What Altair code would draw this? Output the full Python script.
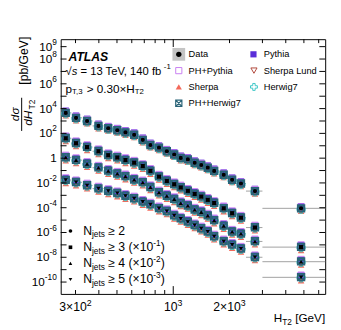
import altair as alt
import pandas as pd

FONT = "Liberation Sans"
W, H = 271, 261
OX, OY = 62, 36  # plot-area origin in page pixels

# ---------------- data ----------------
ht2_center = [266, 302, 346, 398, 449, 502, 555, 618, 687, 755, 839, 924, 1012, 1097,
              1197, 1302, 1412, 1530, 1656, 1862, 2066, 2303, 2736, 4830]
ht2_edges = [250, 285, 325, 370, 425, 475, 530, 585, 650, 720, 795, 880, 965, 1055, 1145,
             1250, 1355, 1470, 1590, 1755, 1960, 2180, 2450, 3000, 7000]

xs_ge2 = [4.5e3, 1.8e3, 1.0e3, 4.0e2, 2.6e2, 1.8e2, 1.2e2, 78, 30, 11.6, 7.0, 3.6, 1.96, 1.05,
          0.79, 0.43, 0.28, 0.17, 0.094, 0.046, 0.018, 0.0089, 0.0022, 8.9e-5]
xs_ge3 = [400, 160, 78, 36, 17.3, 11.3, 7.0, 4.3, 2.3, 0.94, 0.32, 0.145, 0.078, 0.043,
          0.023, 0.013, 7.9e-3, 4.3e-3, 2.4e-3, 8.9e-4, 3.6e-4, 1.55e-4, 2.5e-5, 6.6e-7]
xs_ge4 = [113, 69, 34, 17, 9.3, 5.5, 3.4, 1.8, 1.1, 0.45, 0.17, 0.089, 0.049, 0.023,
          0.0145, 0.0069, 0.0044, 0.0023, 9.5e-4, 3.4e-4, 1.15e-4, 7.8e-5, 1.9e-5, 4.4e-7]
xs_ge5 = [17, 11.2, 6.2, 3.5, 2.2, 1.45, 0.89, 0.55, 0.295, 0.178, 0.089, 0.052, 0.023, 0.013,
          0.0071, 0.0038, 0.0021, 0.00115, 4.7e-4, 1.9e-4, 1.0e-4, 4.9e-5, 1.0e-5, 2.4e-7]
scale_factors = [1, 1e-1, 1e-2, 1e-3]
series_names = ["ge2", "ge3", "ge4", "ge5"]

ratio_pythia = [1.5, 1.4, 1.4, 1.4]
ratio_ph_pythia = [1.3, 1.5, 1.5, 1.5]
ratio_sherpa = [0.6, 0.55, 0.55, 0.55]
ratio_sherpa_lund = [0.8, 0.8, 0.8, 0.8]
ratio_ph_herwig7 = [1.0, 1.05, 1.05, 1.05]
ratio_herwig7 = [0.85, 0.9, 0.9, 0.9]

y_ticks_labelled = [1e9, 1e8, 1e6, 1e4, 1e2, 1, 1e-2, 1e-4, 1e-6, 1e-8, 1e-10]
y_tick_exps = ["9", "8", "6", "4", "2", "", "-2", "-4", "-6", "-8", "-10"]
x_labels = [(300, "3×10", "2"), (1000, "10", "3"), (2000, "2×10", "3")]
x_minor = [300, 400, 500, 600, 700, 800, 900, 2000, 3000, 4000, 5000, 6000]
x_major = [1000]

# ---------------- helpers ----------------
AW = {' ': 278, '!': 278, '(': 333, ')': 333, '+': 584, ',': 278, '-': 333, '.': 278,
      '/': 278, '=': 584, '>': 584, '[': 278, ']': 278, '×': 584, '≥': 549, 'σ': 600, '√': 549}
for c in "0123456789":
    AW[c] = 556
AW.update(dict(zip("ABCDEFGHIJKLMNOPQRSTUVWXYZ",
                   [667, 667, 722, 722, 667, 611, 778, 722, 278, 500, 667, 556, 833, 722, 778,
                    667, 778, 722, 667, 611, 722, 667, 944, 667, 667, 611])))
AW.update(dict(zip("abcdefghijklmnopqrstuvwxyz",
                   [556, 556, 500, 556, 556, 278, 556, 556, 222, 222, 500, 222, 833, 556, 556,
                    556, 556, 333, 500, 278, 556, 500, 722, 500, 500, 500])))


def tw(s, size):
    return sum(AW.get(c, 556) for c in s) / 1000.0 * size


xscale = alt.Scale(type="log", domain=[250, 6500], nice=False)
yscale = alt.Scale(type="log", domain=[1.1e-11, 4e9], nice=False)

rows = []
vals = [xs_ge2, xs_ge3, xs_ge4, xs_ge5]
for k in range(4):
    for i in range(len(ht2_center)):
        rows.append(dict(series=series_names[k], k=k, x=ht2_center[i], lo=ht2_edges[i],
                         hi=ht2_edges[i + 1], y=vals[k][i] * scale_factors[k]))
data = pd.DataFrame(rows)


def mc_df(ratio):
    d = data.copy()
    d["y"] = [r.y * ratio[r.k] for r in d.itertuples()]
    return d


X = alt.X("x:Q", scale=xscale, axis=None)
Y = alt.Y("y:Q", scale=yscale, axis=None)

layers = []
# x error bars (bin widths)
layers.append(alt.Chart(data).mark_rule(color="#a0a0a0", strokeWidth=1, clip=True).encode(
    x=alt.X("lo:Q", scale=xscale, axis=None), x2="hi:Q", y=Y))

SQX = "M-1,-1H1V1H-1Z M-1,-1L1,1 M1,-1L-1,1"
OCROSS = "M-0.35,-1H0.35V-0.35H1V0.35H0.35V1H-0.35V0.35H-1V-0.35H-0.35Z"

mc_styles = [
    (ratio_sherpa, dict(shape="triangle-up", filled=True, color="#F4695A", size=45)),
    (ratio_sherpa_lund, dict(shape="triangle-down", filled=False, color="#B0463A", size=42, strokeWidth=1)),
    (ratio_pythia, dict(shape="square", filled=True, color="#5A2ED8", size=42)),
    (ratio_ph_pythia, dict(shape="square", filled=False, color="#C97EF2", size=42, strokeWidth=1)),
    (ratio_herwig7, dict(shape=OCROSS, filled=False, color="#3CC6C6", size=70, strokeWidth=1)),
    (ratio_ph_herwig7, dict(shape=SQX, filled=False, color="#2A6478", size=46, strokeWidth=1.8)),
]
for ratio, st in mc_styles:
    layers.append(alt.Chart(mc_df(ratio)).mark_point(opacity=1, **st).encode(x=X, y=Y))

layers.append(alt.Chart(data).mark_point(filled=True, color="black", opacity=1, size=18).encode(
    x=X, y=Y,
    shape=alt.Shape("series:N", scale=alt.Scale(domain=series_names,
                                                range=["circle", "square", "triangle-up", "triangle-down"]),
                    legend=None)))

# ---------------- ticks ----------------
ydec = pd.DataFrame({"v": [10.0 ** e for e in range(-10, 10)]})
layers.append(alt.Chart(ydec).mark_rule(color="black").encode(
    y=alt.Y("v:Q", scale=yscale, axis=None), x=alt.value(0), x2=alt.value(6)))
layers.append(alt.Chart(ydec).mark_rule(color="black").encode(
    y=alt.Y("v:Q", scale=yscale, axis=None), x=alt.value(W - 6), x2=alt.value(W)))
for vlist, ln in ((x_minor, 4), (x_major, 8)):
    d = pd.DataFrame({"v": vlist})
    layers.append(alt.Chart(d).mark_rule(color="black").encode(
        x=alt.X("v:Q", scale=xscale, axis=None), y=alt.value(H), y2=alt.value(H - ln)))
    layers.append(alt.Chart(d).mark_rule(color="black").encode(
        x=alt.X("v:Q", scale=xscale, axis=None), y=alt.value(0), y2=alt.value(ln)))

# ---------------- tick labels ----------------
ylab = pd.DataFrame({"v": y_ticks_labelled, "e": y_tick_exps})
ylab["base"] = ["10" if e != "" else "1" for e in y_tick_exps]
ylab["bx"] = [-4 - tw(e, 8.5) for e in y_tick_exps]
layers.append(alt.Chart(ylab).mark_text(align="right", baseline="middle", font=FONT, fontSize=12).encode(
    y=alt.Y("v:Q", scale=yscale, axis=None), x=alt.X("bx:Q", scale=None, axis=None), text="base:N"))
layers.append(alt.Chart(ylab).mark_text(align="right", baseline="middle", font=FONT, fontSize=8.5, dy=-5).encode(
    y=alt.Y("v:Q", scale=yscale, axis=None), x=alt.value(-4), text="e:N"))

for v, b, e in x_labels:
    tot = tw(b, 12.5) + tw(e, 9)
    d = pd.DataFrame({"v": [v], "b": [b], "e": [e]})
    layers.append(alt.Chart(d).mark_text(align="left", baseline="middle", font=FONT, fontSize=12.5,
                                         dx=-tot / 2).encode(
        x=alt.X("v:Q", scale=xscale, axis=None), y=alt.value(H + 14), text="b:N"))
    layers.append(alt.Chart(d).mark_text(align="left", baseline="middle", font=FONT, fontSize=9,
                                         dx=-tot / 2 + tw(b, 12.5)).encode(
        x=alt.X("v:Q", scale=xscale, axis=None), y=alt.value(H + 9), text="e:N"))

# ---------------- free text ----------------
pieces = []  # (text, x_page, y_page_center, size, style, weight)


def run(parts, x, y, style="normal", weight="normal", align="left"):
    """parts: list of (text, size, dy, style); leading spaces become x offsets"""
    total = sum(tw(t, s) for t, s, dy, st in parts)
    if align == "right":
        x = x - total
    for t, s, dy, st in parts:
        stripped = t.lstrip(" ")
        lead = tw(t[:len(t) - len(stripped)], s)
        pieces.append((stripped, x + lead, y + dy, s, st or style, weight))
        x += tw(t, s)


run([("ATLAS", 12.5, 0, "italic")], 70, 54.5, weight="bold")
run([("√", 11.5, 0, None), ("s", 11.5, 0, "italic"), (" = 13 TeV, 140 fb", 11.5, 0, None),
     ("-1", 8, -4.5, None)], 67, 69.5)
run([("p", 12, 0, None), ("T,3", 8, 3.5, None), (" > 0.30×H", 12, 0, None), ("T2", 8, 3.5, None)], 67, 87)

# legend text
for txt, x, y in [("Data", 193, 51.5), ("PH+Pythia", 193, 68.2), ("Sherpa", 193, 84.9),
                  ("PH+Herwig7", 193, 101.6), ("Pythia", 270, 51.5), ("Sherpa Lund", 270, 68.2),
                  ("Herwig7", 270, 84.9)]:
    run([(txt, 9.5, 0, None)], x, y)

# Njets legend
nj_rows = [232.5, 249.2, 265.7, 282.2]
nj_text = [[(" ≥ 2", 12.5, 0, None)],
           [(" ≥ 3 (×10", 12.5, 0, None), ("-1", 8.5, -4.5, None), (")", 12.5, 0, None)],
           [(" ≥ 4 (×10", 12.5, 0, None), ("-2", 8.5, -4.5, None), (")", 12.5, 0, None)],
           [(" ≥ 5 (×10", 12.5, 0, None), ("-3", 8.5, -4.5, None), (")", 12.5, 0, None)]]
for y, tail in zip(nj_rows, nj_text):
    run([("N", 12.5, 0, None), ("jets", 8.5, 3.5, None)] + tail, 85, y)

# x title
run([("H", 12, 0, None), ("T2", 8.5, 3.5, None), (" [GeV]", 12, 0, None)], 333, 322, align="right")

pdf = pd.DataFrame(pieces, columns=["t", "x", "y", "s", "style", "weight"])
pdf["x"] = pdf["x"] - OX
pdf["y"] = pdf["y"] - OY
for (st, wt, sz), g in pdf.groupby(["style", "weight", "s"]):
    layers.append(alt.Chart(g).mark_text(align="left", baseline="middle", font=FONT, fontStyle=st,
                                         fontWeight=wt, fontSize=float(sz), color="black").encode(
        x=alt.X("x:Q", scale=None, axis=None), y=alt.Y("y:Q", scale=None, axis=None),
        text="t:N"))

# rotated y title
rot = pd.DataFrame([
    ("[pb/GeV]", 25, 58, 12.5, "normal"),
    ("dσ", 15.5, 113, 12, "italic"),
    ("dH", 29, 117, 12, "italic"),
    ("T2", 32.5, 103, 8.5, "normal"),
], columns=["t", "x", "y", "s", "style"])
rot["x"] -= OX
rot["y"] -= OY
for (st, sz), g in rot.groupby(["style", "s"]):
    layers.append(alt.Chart(g).mark_text(align="center", baseline="middle", font=FONT, fontStyle=st,
                                         fontSize=float(sz), angle=270, color="black").encode(
        x=alt.X("x:Q", scale=None, axis=None), y=alt.Y("y:Q", scale=None, axis=None),
        text="t:N"))
layers.append(alt.Chart(pd.DataFrame({"a": [0]})).mark_rule(color="black", strokeWidth=1).encode(
    x=alt.value(22 - OX), y=alt.value(96 - OY), y2=alt.value(130 - OY)))

# ---------------- legend markers ----------------
one = pd.DataFrame({"a": [0]})


def lm(x, y, **kw):
    return alt.Chart(one).mark_point(opacity=1, **kw).encode(x=alt.value(x - OX), y=alt.value(y - OY))


layers.append(lm(183, 51.5, shape="square", filled=True, color="#c4c4c4", size=170))
layers.append(lm(183, 51.5, shape="circle", filled=True, color="black", size=30))
layers.append(lm(183, 68.2, shape="square", filled=False, color="#C97EF2", size=40, strokeWidth=1))
layers.append(lm(183, 84.9, shape="triangle-up", filled=True, color="#F4695A", size=40))
layers.append(lm(183, 101.6, shape=SQX, filled=False, color="#2A6478", size=40, strokeWidth=1.2))
layers.append(lm(259.5, 51.5, shape="square", filled=True, color="#5A2ED8", size=40))
layers.append(lm(260, 68.2, shape="triangle-down", filled=False, color="#B0463A", size=40, strokeWidth=1))
layers.append(lm(260, 84.9, shape=OCROSS, filled=False, color="#3CC6C6", size=50, strokeWidth=1))
for y, shp in zip(nj_rows, ["circle", "square", "triangle-up", "triangle-down"]):
    layers.append(lm(72, y, shape=shp, filled=True, color="black", size=14))

chart = alt.layer(*layers).properties(
    width=W, height=H,
    autosize=alt.AutoSizeParams(type="none"),
    padding={"left": OX - 8, "top": OY - 8, "right": 8, "bottom": 33},
).configure_view(stroke="black", strokeWidth=1)

chart.save("out.html", embed_options={"renderer": "svg", "actions": False})
